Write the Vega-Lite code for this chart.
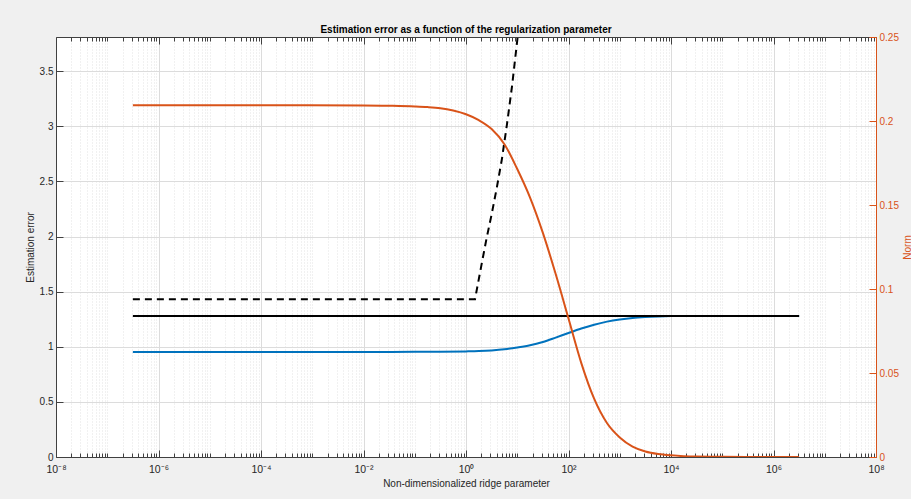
{
  "$schema": "https://vega.github.io/schema/vega-lite/v6.json",
  "width": 820,
  "height": 420,
  "autosize": {"type": "none"},
  "padding": {"left": 56, "top": 37, "right": 35, "bottom": 42},
  "background": "#f0f0f0",
  "config": {
    "view": {"fill": "white", "stroke": null},
    "font": "Liberation Sans",
    "axis": {"labelFont": "Liberation Sans", "titleFont": "Liberation Sans", "titleFontWeight": "normal"}
  },
  "title": {
    "text": "Estimation error as a function of the regularization parameter",
    "fontSize": 10,
    "fontWeight": "bold",
    "color": "#000000",
    "anchor": "middle",
    "offset": -3
  },
  "datasets": {
    "blue": [
      {"lambda": 3.162e-7, "error": 0.953},
      {"lambda": 1e-4, "error": 0.953},
      {"lambda": 1e-2, "error": 0.953},
      {"lambda": 0.1, "error": 0.954},
      {"lambda": 0.316, "error": 0.955},
      {"lambda": 1, "error": 0.958},
      {"lambda": 1.778, "error": 0.961},
      {"lambda": 3.162, "error": 0.967},
      {"lambda": 5.623, "error": 0.977},
      {"lambda": 10, "error": 0.993},
      {"lambda": 17.78, "error": 1.013},
      {"lambda": 31.62, "error": 1.043},
      {"lambda": 56.23, "error": 1.083},
      {"lambda": 100, "error": 1.125},
      {"lambda": 177.8, "error": 1.165},
      {"lambda": 316.2, "error": 1.2},
      {"lambda": 562.3, "error": 1.228},
      {"lambda": 1000, "error": 1.248},
      {"lambda": 1778, "error": 1.262},
      {"lambda": 3162, "error": 1.27},
      {"lambda": 5623, "error": 1.275},
      {"lambda": 10000, "error": 1.278},
      {"lambda": 31620, "error": 1.28},
      {"lambda": 3.162e6, "error": 1.28}
    ],
    "black": [
      {"lambda": 3.162e-7, "error": 1.28},
      {"lambda": 3.162e6, "error": 1.28}
    ],
    "dashed": [
      {"lambda": 3.162e-7, "error": 1.432},
      {"lambda": 1.5, "error": 1.432},
      {"lambda": 2.0, "error": 1.74},
      {"lambda": 2.51, "error": 1.98},
      {"lambda": 3.16, "error": 2.2},
      {"lambda": 3.98, "error": 2.44},
      {"lambda": 5.01, "error": 2.7},
      {"lambda": 6.31, "error": 3.02},
      {"lambda": 7.94, "error": 3.37},
      {"lambda": 10.0, "error": 3.78},
      {"lambda": 11.2, "error": 4.0}
    ],
    "norm": [
      {"lambda": 3.162e-7, "norm": 0.2094},
      {"lambda": 1e-4, "norm": 0.2094},
      {"lambda": 1e-2, "norm": 0.2093},
      {"lambda": 0.0316, "norm": 0.2091},
      {"lambda": 0.1, "norm": 0.2087},
      {"lambda": 0.1778, "norm": 0.2083},
      {"lambda": 0.316, "norm": 0.2076},
      {"lambda": 0.5623, "norm": 0.2062},
      {"lambda": 1, "norm": 0.204},
      {"lambda": 1.778, "norm": 0.2005},
      {"lambda": 3.162, "norm": 0.1952},
      {"lambda": 5.623, "norm": 0.1862},
      {"lambda": 10, "norm": 0.1714},
      {"lambda": 17.78, "norm": 0.1544},
      {"lambda": 31.62, "norm": 0.1334},
      {"lambda": 56.23, "norm": 0.1089},
      {"lambda": 100, "norm": 0.0824},
      {"lambda": 177.8, "norm": 0.0559},
      {"lambda": 316.2, "norm": 0.0347},
      {"lambda": 562.3, "norm": 0.0202},
      {"lambda": 1000, "norm": 0.0116},
      {"lambda": 1778, "norm": 0.0062},
      {"lambda": 3162, "norm": 0.0033},
      {"lambda": 5623, "norm": 0.0018},
      {"lambda": 10000, "norm": 0.001},
      {"lambda": 17780, "norm": 0.0005},
      {"lambda": 31620, "norm": 0.00025},
      {"lambda": 100000, "norm": 0.0001},
      {"lambda": 316200, "norm": 0.00003},
      {"lambda": 3.162e6, "norm": 0}
    ]
  },
  "layer": [
    {
      "encoding": {
        "x": {
          "field": "lambda",
          "type": "quantitative",
          "scale": {"type": "log", "domain": [1e-8, 1e8], "nice": false},
          "axis": {
            "orient": "bottom",
            "values": [1e-8,2e-8,3e-8,4e-8,5e-8,6e-8,7e-8,8e-8,9e-8,1e-7,2e-7,3e-7,4e-7,5e-7,6e-7,7e-7,8e-7,9e-7,1e-6,2e-6,3e-6,4e-6,5e-6,6e-6,7e-6,8e-6,9e-6,1e-5,2e-5,3e-5,4e-5,5e-5,6e-5,7e-5,8e-5,9e-5,1e-4,2e-4,3e-4,4e-4,5e-4,6e-4,7e-4,8e-4,9e-4,1e-3,2e-3,3e-3,4e-3,5e-3,6e-3,7e-3,8e-3,9e-3,1e-2,2e-2,3e-2,4e-2,5e-2,6e-2,7e-2,8e-2,9e-2,0.1,0.2,0.3,0.4,0.5,0.6,0.7,0.8,0.9,1,2,3,4,5,6,7,8,9,10,20,30,40,50,60,70,80,90,100,200,300,400,500,600,700,800,900,1000,2000,3000,4000,5000,6000,7000,8000,9000,1e4,2e4,3e4,4e4,5e4,6e4,7e4,8e4,9e4,1e5,2e5,3e5,4e5,5e5,6e5,7e5,8e5,9e5,1e6,2e6,3e6,4e6,5e6,6e6,7e6,8e6,9e6,1e7,2e7,3e7,4e7,5e7,6e7,7e7,8e7,9e7,1e8],
            "labelExpr": "(abs(log(datum.value)/LN10 - round(log(datum.value)/LN10)) < 1e-6 && round(log(datum.value)/LN10) % 2 == 0) ? '10' + replace(replace(replace(replace(replace(replace('' + round(log(datum.value)/LN10), '-', '⁻'), '0', '⁰'), '2', '²'), '4', '⁴'), '6', '⁶'), '8', '⁸') : ''",
            "labelOverlap": false,
            "labelBound": false,
            "labelFlush": false,
            "labelFontSize": 10.5,
            "labelColor": "#262626",
            "labelPadding": 14,
            "grid": true,
            "gridColor": {"condition": {"test": "abs(log(datum.value)/LN10 - round(log(datum.value)/LN10)) < 1e-6 && round(log(datum.value)/LN10) % 2 == 0", "value": "#dcdcdc"}, "value": "#e2e2e2"},
            "gridDash": {"condition": {"test": "abs(log(datum.value)/LN10 - round(log(datum.value)/LN10)) < 1e-6 && round(log(datum.value)/LN10) % 2 == 0", "value": []}, "value": [1, 2]},
            "tickSize": {"condition": {"test": "abs(log(datum.value)/LN10 - round(log(datum.value)/LN10)) < 1e-6 && round(log(datum.value)/LN10) % 2 == 0", "value": -7}, "value": -4},
            "tickColor": "#404040",
            "domainColor": "#404040",
            "title": "Non-dimensionalized ridge parameter",
            "titleFontSize": 10,
            "titleColor": "#262626",
            "titleX": 410,
            "titleY": 26,
            "titleAlign": "center",
            "titleBaseline": "middle"
          }
        },
        "y": {
          "field": "error",
          "type": "quantitative",
          "scale": {"domain": [0, 3.81], "nice": false, "zero": false},
          "axis": {
            "orient": "left",
            "values": [0, 0.5, 1, 1.5, 2, 2.5, 3, 3.5],
            "labelExpr": "'' + datum.value",
            "labelFontSize": 10,
            "labelColor": "#262626",
            "labelPadding": 10,
            "tickSize": -7,
            "tickColor": "#404040",
            "domainColor": "#404040",
            "grid": true,
            "gridColor": "#dcdcdc",
            "title": "Estimation error",
            "titleFontSize": 10,
            "titleColor": "#262626",
            "titleAngle": 270,
            "titleX": -26,
            "titleY": 210,
            "titleAlign": "center",
            "titleBaseline": "middle"
          }
        }
      },
      "layer": [
        {
          "data": {"name": "blue"},
          "mark": {"type": "line", "color": "#0072BD", "strokeWidth": 2, "interpolate": "monotone", "clip": true}
        },
        {
          "data": {"name": "black"},
          "mark": {"type": "line", "color": "#000000", "strokeWidth": 2, "clip": true}
        },
        {
          "data": {"name": "dashed"},
          "mark": {"type": "line", "color": "#000000", "strokeWidth": 2, "strokeDash": [7, 5], "clip": true}
        }
      ]
    },
    {
      "data": {"name": "norm"},
      "mark": {"type": "line", "color": "#D95319", "strokeWidth": 2, "interpolate": "monotone", "clip": true},
      "encoding": {
        "x": {
          "field": "lambda",
          "type": "quantitative",
          "scale": {"type": "log", "domain": [1e-8, 1e8], "nice": false},
          "axis": {
            "orient": "top",
            "values": [1e-8,2e-8,3e-8,4e-8,5e-8,6e-8,7e-8,8e-8,9e-8,1e-7,2e-7,3e-7,4e-7,5e-7,6e-7,7e-7,8e-7,9e-7,1e-6,2e-6,3e-6,4e-6,5e-6,6e-6,7e-6,8e-6,9e-6,1e-5,2e-5,3e-5,4e-5,5e-5,6e-5,7e-5,8e-5,9e-5,1e-4,2e-4,3e-4,4e-4,5e-4,6e-4,7e-4,8e-4,9e-4,1e-3,2e-3,3e-3,4e-3,5e-3,6e-3,7e-3,8e-3,9e-3,1e-2,2e-2,3e-2,4e-2,5e-2,6e-2,7e-2,8e-2,9e-2,0.1,0.2,0.3,0.4,0.5,0.6,0.7,0.8,0.9,1,2,3,4,5,6,7,8,9,10,20,30,40,50,60,70,80,90,100,200,300,400,500,600,700,800,900,1000,2000,3000,4000,5000,6000,7000,8000,9000,1e4,2e4,3e4,4e4,5e4,6e4,7e4,8e4,9e4,1e5,2e5,3e5,4e5,5e5,6e5,7e5,8e5,9e5,1e6,2e6,3e6,4e6,5e6,6e6,7e6,8e6,9e6,1e7,2e7,3e7,4e7,5e7,6e7,7e7,8e7,9e7,1e8],
            "labels": false,
            "grid": false,
            "tickSize": {"condition": {"test": "abs(log(datum.value)/LN10 - round(log(datum.value)/LN10)) < 1e-6 && round(log(datum.value)/LN10) % 2 == 0", "value": -7}, "value": -4},
            "tickColor": "#404040",
            "domainColor": "#404040",
            "title": null
          }
        },
        "y": {
          "field": "norm",
          "type": "quantitative",
          "scale": {"domain": [0, 0.25], "nice": false},
          "axis": {
            "orient": "right",
            "values": [0, 0.05, 0.1, 0.15, 0.2, 0.25],
            "labelExpr": "'' + datum.value",
            "labelFontSize": 10,
            "labelColor": "#D95319",
            "labelPadding": 10,
            "tickSize": -7,
            "tickColor": "#D95319",
            "domainColor": "#D95319",
            "grid": false,
            "title": "Norm",
            "titleFontSize": 10,
            "titleColor": "#D95319",
            "titleAngle": 270,
            "titleX": 31,
            "titleY": 210,
            "titleAlign": "center",
            "titleBaseline": "middle"
          }
        }
      }
    }
  ],
  "resolve": {"scale": {"y": "independent"}, "axis": {"x": "independent"}}
}
